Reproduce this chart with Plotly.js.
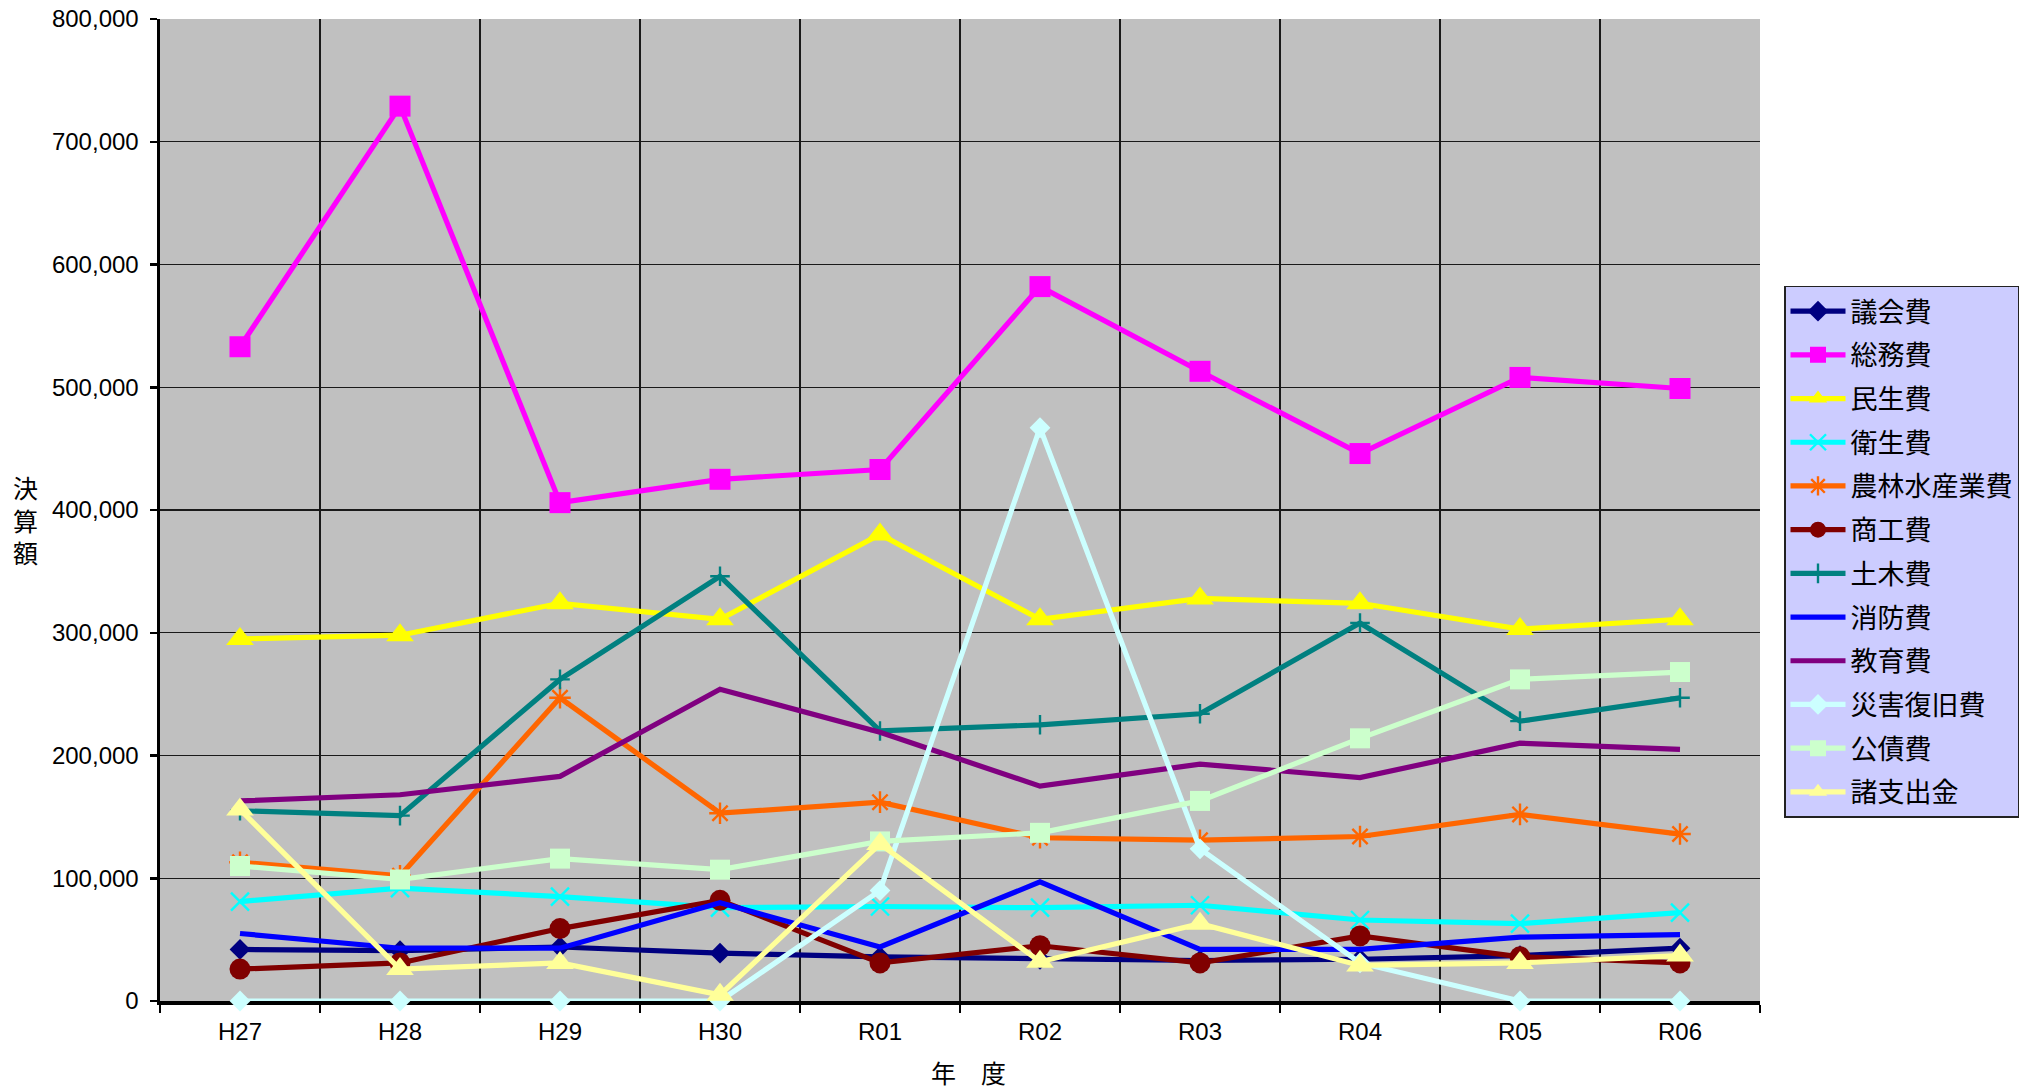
<!DOCTYPE html>
<html>
<head>
<meta charset="utf-8">
<script src="https://cdn.plot.ly/plotly-3.0.1.min.js"></script>
<style>
html, body { margin: 0; padding: 0; background: #ffffff; }
#chart { width: 2039px; height: 1091px; }
</style>
</head>
<body>
<div id="chart"></div>
<script>
// Fiscal years (categories)
const years = ["H27", "H28", "H29", "H30", "R01", "R02", "R03", "R04", "R05", "R06"];

// Series names
const seriesNames = ["議会費", "総務費", "民生費", "衛生費", "農林水産業費", "商工費", "土木費", "消防費", "教育費", "災害復旧費", "公債費", "諸支出金"];

// Settlement amounts
const gikaihi      = [42000, 41000, 44000, 39000, 36000, 34000, 33000, 34000, 37000, 43000];
const somuhi       = [533000, 729000, 406000, 425000, 433000, 582000, 513000, 446000, 508000, 499000];
const minseihi     = [295000, 298000, 324000, 311000, 380000, 311000, 328000, 324000, 303000, 311000];
const eiseihi      = [81000, 92000, 85000, 76000, 77000, 76000, 78000, 66000, 63000, 72000];
const norinhi      = [113000, 102000, 247000, 153000, 162000, 133000, 131000, 134000, 152000, 136000];
const shokohi      = [26000, 31000, 59000, 82000, 31000, 45000, 31000, 53000, 36000, 31000];
const dobokuhi     = [155000, 151000, 262000, 346000, 220000, 225000, 234000, 308000, 228000, 247000];
const shobohi      = [55000, 43000, 43000, 80000, 44000, 97000, 42000, 42000, 52000, 54000];
const kyoikuhi     = [163000, 168000, 183000, 254000, 219000, 175000, 193000, 182000, 210000, 205000];
const saigaihi     = [0, 0, 0, 0, 90000, 467000, 124000, 31000, 0, 0];
const kosaihi      = [110000, 99000, 116000, 107000, 130000, 137000, 163000, 214000, 262000, 268000];
const shoshishutsu = [156000, 26000, 31000, 5000, 128000, 32000, 63000, 29000, 31000, 37000];

// Y axis ticks
const yTicks = [0, 100000, 200000, 300000, 400000, 500000, 600000, 700000, 800000];

const seriesValues = [gikaihi, somuhi, minseihi, eiseihi, norinhi, shokohi, dobokuhi, shobohi, kyoikuhi, saigaihi, kosaihi, shoshishutsu];

// Styles per series
const styles = [
  {color: "#000080", symbol: "diamond", size: 16},
  {color: "#FF00FF", symbol: "square", size: 21},
  {color: "#FFFF00", symbol: "triangle-up", size: 24},
  {color: "#00FFFF", symbol: "x-thin", size: 18, thin: true},
  {color: "#FF6600", symbol: "asterisk", size: 18, thin: true},
  {color: "#800000", symbol: "circle", size: 21},
  {color: "#008080", symbol: "cross-thin", size: 14, thin: true},
  {color: "#0000FF", symbol: null},
  {color: "#800080", symbol: null},
  {color: "#CCFFFF", symbol: "diamond", size: 16},
  {color: "#CCFFCC", symbol: "square", size: 20},
  {color: "#FFFF99", symbol: "triangle-up", size: 24}
];

const traces = seriesNames.map((name, i) => {
  const st = styles[i];
  const tr = {
    type: "scatter",
    x: years,
    y: seriesValues[i],
    name: name,
    legendgroup: "g" + i,
    mode: st.symbol ? "lines+markers" : "lines",
    line: {color: st.color, width: 5.2},
    cliponaxis: false,
    hoverinfo: "x+y+name"
  };
  if (st.symbol) {
    tr.marker = {
      symbol: st.symbol,
      size: st.size,
      color: st.color,
      line: st.thin ? {color: st.color, width: 2.4} : {width: 0}
    };
  }
  return tr;
});

const tickFont = {family: "Liberation Sans, Arial, sans-serif", size: 24, color: "#000000"};
const cjkFont = "Noto Sans CJK JP, sans-serif";

const layout = {
  width: 2039,
  height: 1091,
  margin: {l: 160, r: 279, t: 19, b: 90, pad: 0},
  paper_bgcolor: "#FFFFFF",
  plot_bgcolor: "#C0C0C0",
  showlegend: true,
  legend: {
    x: 1.015, xanchor: "left",
    y: 0.7285, yanchor: "top",
    bgcolor: "#CCCCFF",
    bordercolor: "#222222",
    borderwidth: 1.5,
    font: {family: cjkFont, size: 27, color: "#000000"},
    traceorder: "grouped",
    tracegroupgap: 5.6,
    itemwidth: 55,
    itemclick: false
  },
  xaxis: {
    type: "category",
    range: [-0.5, 9.5],
    tickson: "boundaries",
    ticks: "outside",
    ticklen: 8,
    tickwidth: 2.5,
    tickcolor: "#000000",
    showline: true,
    linecolor: "#000000",
    linewidth: 3.5,
    layer: "below traces",
    showgrid: true,
    gridcolor: "#1a1a1a",
    gridwidth: 1.4,
    tickfont: tickFont,
    ticklabelstandoff: 7,
    zeroline: false,
    fixedrange: true
  },
  yaxis: {
    range: [0, 800000],
    tickvals: yTicks,
    tickformat: ",d",
    ticks: "outside",
    ticklen: 7,
    tickwidth: 2.5,
    tickcolor: "#000000",
    showline: true,
    linecolor: "#000000",
    linewidth: 3.5,
    layer: "below traces",
    showgrid: true,
    gridcolor: "#1a1a1a",
    gridwidth: 1.4,
    zeroline: false,
    tickfont: tickFont,
    ticklabelstandoff: 6,
    fixedrange: true
  },
  annotations: [
    {
      text: "決<br>算<br>額",
      xref: "paper", yref: "paper",
      x: -0.0838, y: 0.49,
      xanchor: "center", yanchor: "middle",
      showarrow: false,
      font: {family: cjkFont, size: 25, color: "#000000"}
    },
    {
      text: "年　度",
      xref: "paper", yref: "paper",
      x: 0.505, y: -0.0724,
      xanchor: "center", yanchor: "middle",
      showarrow: false,
      font: {family: cjkFont, size: 25, color: "#000000"}
    }
  ]
};

Plotly.newPlot("chart", traces, layout, {displayModeBar: false, staticPlot: true});
</script>
</body>
</html>
